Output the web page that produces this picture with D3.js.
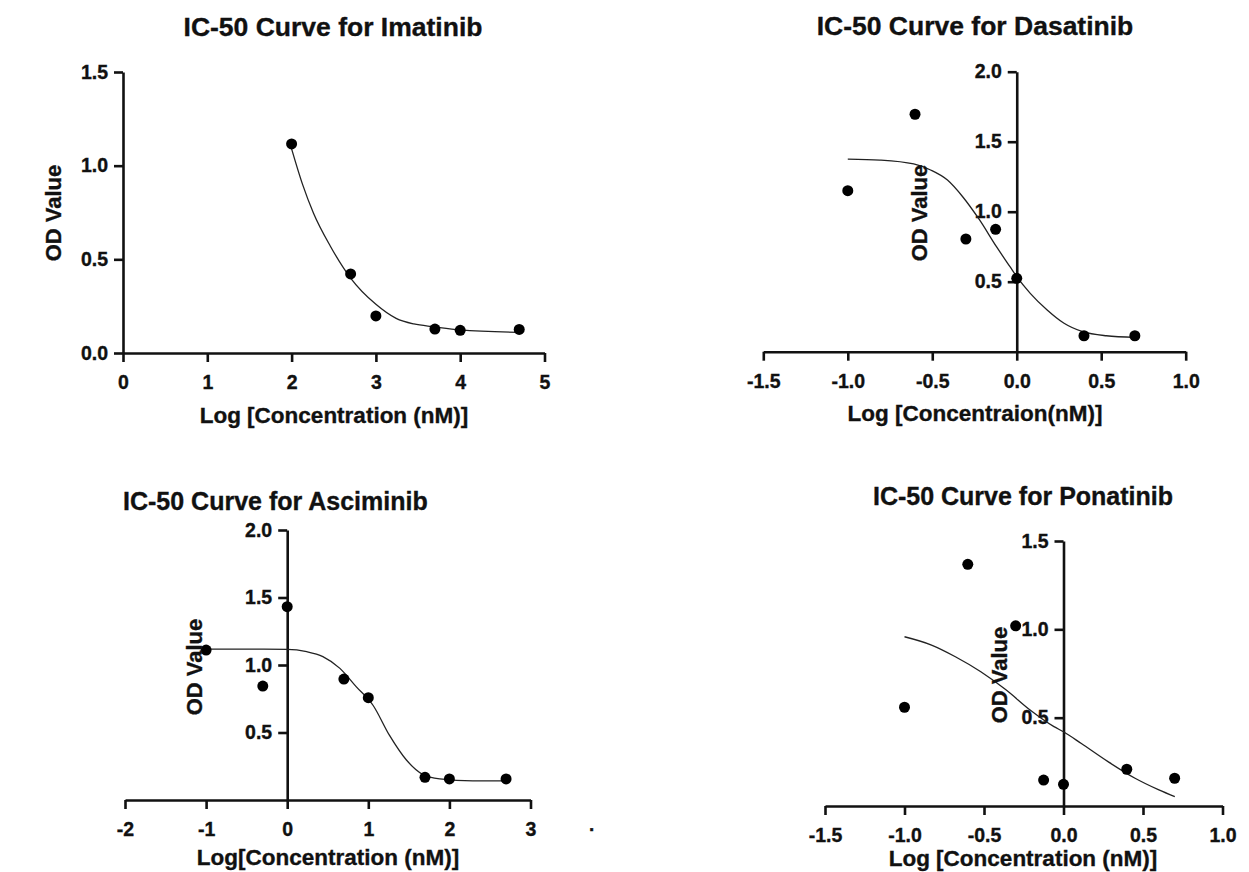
<!DOCTYPE html>
<html lang="en">
<head>
    <meta charset="UTF-8">
    <title>IC-50 Curves</title>
    <script src="https://d3js.org/d3.v7.min.js"></script>
    <style>
        body {
            margin: 0;
            padding: 0;
            background: #fff;
        }

        svg text {
            font-family: "Liberation Sans", Arial, Helvetica, sans-serif;
            font-weight: bold;
            fill: #111;
            stroke: #111;
            stroke-width: 0.35;
        }

        .axis path,
        .axis line {
            stroke: #111;
            stroke-width: 2.6;
        }

        .fit {
            fill: none;
            stroke: #222;
            stroke-width: 1.3;
        }
    </style>
</head>
<body>
<svg id="chart" width="1249" height="872"></svg>

<script>
    var imatinibLogConc = [2.0, 2.7, 3.0, 3.7, 4.0, 4.7];
    var imatinibOD = [1.116, 0.422, 0.198, 0.128, 0.121, 0.126];
    var imatinibFitX = [2.0, 2.13, 2.26, 2.46, 2.70, 3.0, 3.24, 3.45, 3.69, 4.0, 4.69];
    var imatinibFitY = [1.09, 0.90, 0.746, 0.57, 0.40, 0.26, 0.185, 0.155, 0.14, 0.123, 0.110];

    var dasatinibLogConc = [-1.0, -0.602, -0.301, -0.125, 0.0, 0.398, 0.699];
    var dasatinibOD = [1.15, 1.696, 0.805, 0.874, 0.524, 0.114, 0.114];
    var dasatinibFitX = [-1.0, -0.81, -0.61, -0.51, -0.41, -0.32, -0.22, -0.12, -0.04, 0.0, 0.08, 0.18, 0.28, 0.39, 0.53, 0.70];
    var dasatinibFitY = [1.376, 1.369, 1.341, 1.298, 1.226, 1.107, 0.941, 0.75, 0.607, 0.536, 0.417, 0.298, 0.203, 0.143, 0.114, 0.103];

    var asciminibLogConc = [-1.0, -0.301, 0.0, 0.699, 1.0, 1.699, 2.0, 2.699];
    var asciminibOD = [1.111, 0.844, 1.432, 0.896, 0.758, 0.168, 0.156, 0.156];
    var asciminibFitX = [-1.0, 0.0, 0.24, 0.44, 0.65, 0.85, 1.06, 1.26, 1.47, 1.67, 1.88, 2.29, 2.70];
    var asciminibFitY = [1.118, 1.116, 1.099, 1.062, 0.975, 0.84, 0.70, 0.48, 0.296, 0.19, 0.156, 0.141, 0.141];

    var ponatinibLogConc = [-1.0, -0.602, -0.301, -0.125, 0.0, 0.398, 0.699];
    var ponatinibOD = [0.559, 1.368, 1.02, 0.147, 0.123, 0.208, 0.157];
    var ponatinibFitX = [-1.0, -0.83, -0.68, -0.52, -0.36, -0.21, -0.06, 0.0, 0.11, 0.28, 0.45, 0.60, 0.70];
    var ponatinibFitY = [0.958, 0.911, 0.845, 0.76, 0.656, 0.543, 0.449, 0.42, 0.355, 0.251, 0.157, 0.091, 0.053];

    // tick values
    var imatinibXTicks = [0, 1, 2, 3, 4, 5];
    var imatinibYTicks = [0, 0.5, 1.0, 1.5];
    var dasatinibXTicks = [-1.5, -1.0, -0.5, 0, 0.5, 1.0];
    var dasatinibYTicks = [0.5, 1.0, 1.5, 2.0];
    var asciminibXTicks = [-2, -1, 0, 1, 2, 3];
    var asciminibYTicks = [0.5, 1.0, 1.5, 2.0];
    var ponatinibXTicks = [-1.5, -1.0, -0.5, 0, 0.5, 1.0];
    var ponatinibYTicks = [0.5, 1.0, 1.5];

    var titles = ["IC-50 Curve for Imatinib", "IC-50 Curve for Dasatinib",
                  "IC-50 Curve for Asciminib", "IC-50 Curve for Ponatinib"];
    var xTitles = ["Log [Concentration (nM)]", "Log [Concentraion(nM)]",
                   "Log[Concentration (nM)]", "Log [Concentration (nM)]"];
    var yTitle = "OD Value";

    var svg = d3.select("#chart");

    var oneDec = function(d) { return d.toFixed(1); };
    var noDec = function(d) { return d.toFixed(0); };

    // panel layout (pixel placement only)
    var panels = [
        {
            x: imatinibLogConc, y: imatinibOD, fx: imatinibFitX, fy: imatinibFitY,
            xDomain: [0, 5], xRange: [123, 544.5], yDomain: [0, 1.5], yRange: [353, 72],
            xTicks: imatinibXTicks, yTicks: imatinibYTicks, xFmt: noDec, yFmt: oneDec,
            title: titles[0], titlePos: [333, 36, "middle"], titleSize: 26.5,
            xTitle: xTitles[0], xTitlePos: [334, 423],
            yTitlePos: [61, 213]
        },
        {
            x: dasatinibLogConc, y: dasatinibOD, fx: dasatinibFitX, fy: dasatinibFitY,
            xDomain: [-1.5, 1], xRange: [763.3, 1185.7], yDomain: [0, 2], yRange: [351.7, 71.7],
            xTicks: dasatinibXTicks, yTicks: dasatinibYTicks, xFmt: oneDec, yFmt: oneDec,
            title: titles[1], titlePos: [975, 35, "middle"], titleSize: 26.5,
            xTitle: xTitles[1], xTitlePos: [975, 421],
            yTitlePos: [927, 213]
        },
        {
            x: asciminibLogConc, y: asciminibOD, fx: asciminibFitX, fy: asciminibFitY,
            xDomain: [-2, 3], xRange: [125, 530.5], yDomain: [0, 2], yRange: [800, 530],
            xTicks: asciminibXTicks, yTicks: asciminibYTicks, xFmt: noDec, yFmt: oneDec,
            title: titles[2], titlePos: [123, 510, "start"], titleSize: 25,
            xTitle: xTitles[2], xTitlePos: [328, 865],
            yTitlePos: [202, 667]
        },
        {
            x: ponatinibLogConc, y: ponatinibOD, fx: ponatinibFitX, fy: ponatinibFitY,
            xDomain: [-1.5, 1], xRange: [825, 1222.5], yDomain: [0, 1.5], yRange: [806, 541],
            xTicks: ponatinibXTicks, yTicks: ponatinibYTicks, xFmt: oneDec, yFmt: oneDec,
            title: titles[3], titlePos: [1023, 505, "middle"], titleSize: 25,
            xTitle: xTitles[3], xTitlePos: [1023, 866],
            yTitlePos: [1007, 675]
        }
    ];

    panels.forEach(function(p) {
        var g = svg.append("g");

        var x = d3.scaleLinear().domain(p.xDomain).range(p.xRange);
        var y = d3.scaleLinear().domain(p.yDomain).range(p.yRange);

        // axes cross at x = 0, y = 0
        g.append("g")
            .attr("class", "axis")
            .attr("transform", "translate(0," + y(0) + ")")
            .call(d3.axisBottom(x).tickValues(p.xTicks).tickFormat(p.xFmt)
                .tickSize(9).tickSizeOuter(0).tickPadding(13))
            .call(function(a) {
                a.selectAll("text").attr("font-size", 19.5).style("font-family", null);
            });

        g.append("g")
            .attr("class", "axis")
            .attr("transform", "translate(" + x(0) + ",0)")
            .call(d3.axisLeft(y).tickValues(p.yTicks).tickFormat(p.yFmt)
                .tickSize(9).tickSizeOuter(0).tickPadding(6))
            .call(function(a) {
                a.selectAll("text").attr("font-size", 19.5).style("font-family", null);
            });

        // fitted curve
        var line = d3.line()
            .x(function(d) { return x(d[0]); })
            .y(function(d) { return y(d[1]); })
            .curve(d3.curveMonotoneX);

        g.append("path")
            .attr("class", "fit")
            .attr("d", line(d3.zip(p.fx, p.fy)));

        // data points
        g.selectAll("circle")
            .data(d3.zip(p.x, p.y))
            .enter().append("circle")
            .attr("cx", function(d) { return x(d[0]); })
            .attr("cy", function(d) { return y(d[1]); })
            .attr("r", 5.5)
            .attr("fill", "#000");

        // titles
        g.append("text")
            .attr("x", p.titlePos[0])
            .attr("y", p.titlePos[1])
            .attr("text-anchor", p.titlePos[2])
            .attr("font-size", p.titleSize)
            .text(p.title);

        g.append("text")
            .attr("x", p.xTitlePos[0])
            .attr("y", p.xTitlePos[1])
            .attr("text-anchor", "middle")
            .attr("font-size", 22.5)
            .text(p.xTitle);

        g.append("text")
            .attr("transform", "translate(" + p.yTitlePos[0] + "," + p.yTitlePos[1] + ") rotate(-90)")
            .attr("text-anchor", "middle")
            .attr("font-size", 22)
            .text(yTitle);
    });

    // stray dot to the right of the Asciminib panel
    svg.append("text")
        .attr("x", 589)
        .attr("y", 831)
        .attr("font-size", 19)
        .text(".");
</script>
</body>
</html>
